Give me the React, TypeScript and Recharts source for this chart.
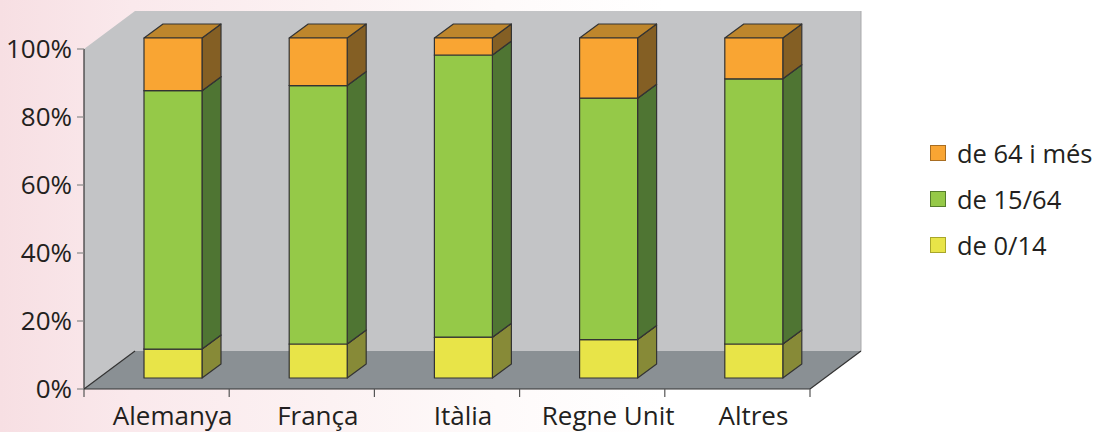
import { Bar, BarChart, XAxis, YAxis } from 'recharts';

const countries = ['Alemanya', 'França', 'Itàlia', 'Regne Unit', 'Altres'];
const age0to14 = [8.5, 10, 12, 11.3, 10];
const age15to64 = [76, 76, 83, 71, 78];
const age64plus = [15.5, 14, 5, 17.7, 12];
const yTicks = [0, 20, 40, 60, 80, 100];

const data = countries.map((name, i) => ({
    name,
    young: age0to14[i],
    adult: age15to64[i],
    senior: age64plus[i],
}));

const W = 1106;
const H = 432;
const LEFT = 84;
const RIGHT = 810;
const TOP = 49;
const BOTTOM = 389;
// room depth (back wall offset) and bar depth
const WALL_DX = 51;
const WALL_DY = 38;
const SHIFT_X = 16;
const SHIFT_Y = 11;
const BAR_DX = 19;
const BAR_DY = 14;
const FONT = '"Open Sans", sans-serif';
const INK = '#231f20';

const palette = {
    young: { front: '#e8e448', side: '#878a37', top: '#c9c63c', legend: '#a8a62a' },
    adult: { front: '#95c948', side: '#4f7533', top: '#7aa23a', legend: '#557d2c' },
    senior: { front: '#f9a533', side: '#845f24', top: '#be862c', legend: '#a86d22' },
};

const boxShape = (c: { front: string; side: string; top: string }) => (props: any) => {
    const { x, y, width, height } = props;
    if (!width || height == null) return null;
    const fx = x + SHIFT_X;
    const fy = y - SHIFT_Y;
    const r = fx + width;
    const b = fy + height;
    return (
        <g stroke="#333" strokeWidth={1.2} strokeLinejoin="round">
            <polygon points={`${r},${fy} ${r + BAR_DX},${fy - BAR_DY} ${r + BAR_DX},${b - BAR_DY} ${r},${b}`} fill={c.side} />
            <polygon points={`${fx},${fy} ${fx + BAR_DX},${fy - BAR_DY} ${r + BAR_DX},${fy - BAR_DY} ${r},${fy}`} fill={c.top} />
            <rect x={fx} y={fy} width={width} height={height} fill={c.front} />
        </g>
    );
};

const slot = (RIGHT - LEFT) / countries.length;

const CategoryTick = (props: any) => {
    const { x, y, payload, index } = props;
    return (
        <g>
            <line x1={x - slot / 2} x2={x - slot / 2} y1={y - 8} y2={y} stroke="#555" strokeWidth={1.2} />
            {index === countries.length - 1 && (
                <line x1={x + slot / 2} x2={x + slot / 2} y1={y - 8} y2={y} stroke="#555" strokeWidth={1.2} />
            )}
            <text x={x + SHIFT_X} y={y + 28} textAnchor="middle" fill={INK} fontSize={26} fontFamily={FONT}>
                {payload.value}
            </text>
        </g>
    );
};

const legendItems = [
    { label: 'de 64 i més', c: palette.senior },
    { label: 'de 15/64', c: palette.adult },
    { label: 'de 0/14', c: palette.young },
];

const LegendBox = () => (
    <div style={{ position: 'absolute', left: 930, top: 130, fontFamily: FONT, fontSize: 25.5, color: INK }}>
        {legendItems.map((it) => (
            <div key={it.label} style={{ display: 'flex', alignItems: 'center', height: 46 }}>
                <span
                    style={{
                        width: 14,
                        height: 14,
                        background: it.c.front,
                        border: `1.5px solid ${it.c.legend}`,
                        marginRight: 11,
                    }}
                />
                <span>{it.label}</span>
            </div>
        ))}
    </div>
);

const Room = () => (
    <svg width={W} height={H} style={{ position: 'absolute', left: 0, top: 0 }}>
        <polygon
            points={`${LEFT},${TOP} ${LEFT + WALL_DX},${TOP - WALL_DY} ${RIGHT + WALL_DX},${TOP - WALL_DY} ${RIGHT + WALL_DX},${BOTTOM - WALL_DY} ${LEFT + WALL_DX},${BOTTOM - WALL_DY} ${LEFT},${BOTTOM}`}
            fill="#c3c4c6"
        />
        <line x1={RIGHT + WALL_DX} x2={RIGHT + WALL_DX} y1={TOP - WALL_DY} y2={BOTTOM - WALL_DY} stroke="#a9aaac" />
        <polygon
            points={`${LEFT},${BOTTOM} ${LEFT + WALL_DX},${BOTTOM - WALL_DY} ${RIGHT + WALL_DX},${BOTTOM - WALL_DY} ${RIGHT},${BOTTOM}`}
            fill="#8a9094"
        />
        <line x1={LEFT} y1={BOTTOM} x2={LEFT + WALL_DX} y2={BOTTOM - WALL_DY} stroke="#333" strokeWidth={1.2} />
        <line x1={RIGHT} y1={BOTTOM} x2={RIGHT + WALL_DX} y2={BOTTOM - WALL_DY} stroke="#333" strokeWidth={1.2} />
    </svg>
);

export default function App() {
    return (
        <div
            style={{
                position: 'absolute',
                left: 0,
                top: 0,
                width: W,
                height: H,
                overflow: 'hidden',
                background:
                    'linear-gradient(to right, #f7dfe3 0%, #fae9ec 12%, #fcf2f3 30%, #fefafa 45%, #ffffff 60%)',
            }}
        >
            <Room />
            <div style={{ position: 'absolute', left: 0, top: 0 }}>
                <BarChart
                    width={W}
                    height={H}
                    data={data}
                    margin={{ top: TOP, right: W - RIGHT, bottom: 0, left: 0 }}
                    barSize={58}
                >
                    <YAxis
                        width={LEFT}
                        domain={[0, 100]}
                        ticks={yTicks}
                        interval={0}
                        tickFormatter={(v) => `${v}%`}
                        tickSize={7}
                        tickMargin={5}
                        axisLine={{ stroke: '#333', strokeWidth: 1.2 }}
                        tickLine={{ stroke: '#888', strokeWidth: 1.2 }}
                        tick={{ fill: INK, fontSize: 26, fontFamily: FONT }}
                    />
                    <XAxis
                        dataKey="name"
                        height={H - BOTTOM}
                        interval={0}
                        tickLine={false}
                        tickSize={8}
                        tickMargin={0}
                        axisLine={{ stroke: '#333', strokeWidth: 1.2 }}
                        tick={<CategoryTick />}
                    />
                    <Bar dataKey="young" stackId="a" isAnimationActive={false} shape={boxShape(palette.young)} />
                    <Bar dataKey="adult" stackId="a" isAnimationActive={false} shape={boxShape(palette.adult)} />
                    <Bar dataKey="senior" stackId="a" isAnimationActive={false} shape={boxShape(palette.senior)} />
                </BarChart>
            </div>
            <LegendBox />
        </div>
    );
}
